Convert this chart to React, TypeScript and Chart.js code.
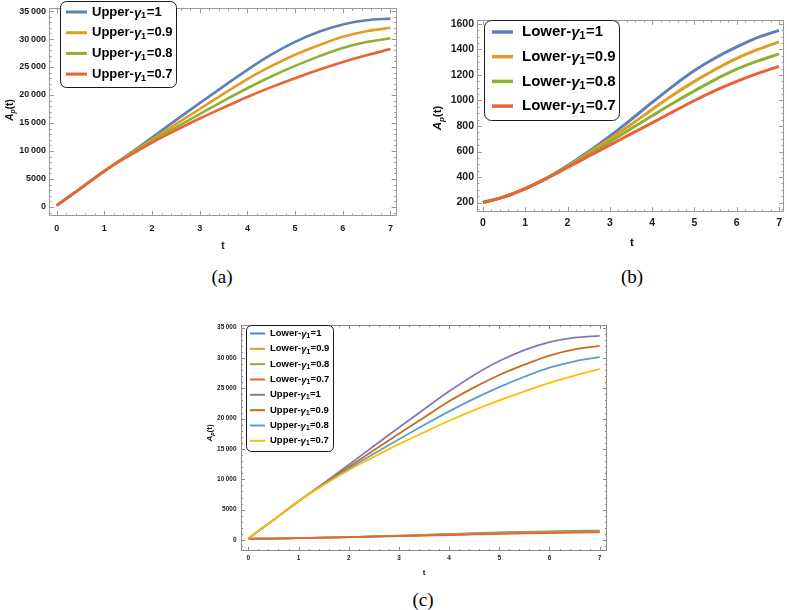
import React, { useEffect, useRef } from "react";
import { Chart, registerables } from "chart.js";

Chart.register(...registerables);

// ---------------- data ----------------
const tValues = [0, 0.5, 1, 1.5, 2, 2.5, 3, 3.5, 4, 4.5, 5, 5.5, 6, 6.5, 7];

const upperG10 = [250, 3300, 6400, 9350, 12400, 15500, 18550, 21550, 24500, 27200, 29500, 31300, 32600, 33350, 33650];
const upperG09 = [250, 3300, 6400, 9250, 12050, 14800, 17500, 20200, 22850, 25150, 27200, 28900, 30400, 31400, 32000];
const upperG08 = [250, 3300, 6400, 9150, 11750, 14200, 16600, 18950, 21200, 23300, 25200, 26900, 28400, 29450, 30150];
const upperG07 = [250, 3300, 6400, 9050, 11500, 13700, 15800, 17750, 19650, 21400, 23000, 24500, 25900, 27100, 28200];

const lowerG10 = [200, 245, 310, 390, 490, 600, 720, 850, 985, 1115, 1235, 1335, 1420, 1495, 1550];
const lowerG09 = [200, 245, 310, 390, 485, 590, 698, 812, 930, 1045, 1150, 1245, 1330, 1400, 1460];
const lowerG08 = [200, 245, 310, 390, 480, 578, 675, 778, 880, 980, 1075, 1165, 1245, 1310, 1365];
const lowerG07 = [200, 245, 310, 388, 475, 563, 650, 738, 825, 913, 1000, 1080, 1150, 1213, 1268];

const upperLabels = ["Upper-γ1=1", "Upper-γ1=0.9", "Upper-γ1=0.8", "Upper-γ1=0.7"];
const lowerLabels = ["Lower-γ1=1", "Lower-γ1=0.9", "Lower-γ1=0.8", "Lower-γ1=0.7"];

const xTicks = [0, 1, 2, 3, 4, 5, 6, 7];
const yTicksUpper = [0, 5000, 10000, 15000, 20000, 25000, 30000, 35000];
const yTicksLower = [200, 400, 600, 800, 1000, 1200, 1400, 1600];

const colorsA = ["#5E81B5", "#E19C24", "#8FB032", "#EB6235"];
const colorsC2 = ["#8778B3", "#C56E1A", "#5D9EC7", "#FFBF00"];

const FONT = '"Liberation Sans", Arial, sans-serif';

// ---------------- plugins ----------------
function minorValues(min: number, max: number, step: number, majors: number[]) {
  const out: number[] = [];
  for (let k = Math.ceil(min / step); k <= Math.floor(max / step); k++) {
    const v = +(k * step).toFixed(6);
    if (!majors.some((m) => Math.abs(m - v) < 1e-6)) out.push(v);
  }
  return out;
}

const framePlugin = {
  id: "mframe",
  beforeDatasetsDraw(chart: any, _a: any, o: any) {
    const { ctx, chartArea: a, scales } = chart;
    const xs = scales.x;
    const ys = scales.y;
    ctx.save();
    ctx.strokeStyle = o.color;
    ctx.lineWidth = 1;
    ctx.beginPath();
    const xMinor = minorValues(xs.min, xs.max, o.xMinor, o.xMajor);
    const yMinor = minorValues(ys.min, ys.max, o.yMinor, o.yMajor);
    const tx = (v: number, len: number) => {
      const px = Math.round(xs.getPixelForValue(v)) + 0.5;
      if (px < a.left || px > a.right) return;
      ctx.moveTo(px, a.bottom);
      ctx.lineTo(px, a.bottom - len);
      ctx.moveTo(px, a.top);
      ctx.lineTo(px, a.top + len);
    };
    const ty = (v: number, len: number) => {
      const py = Math.round(ys.getPixelForValue(v)) + 0.5;
      if (py < a.top || py > a.bottom) return;
      ctx.moveTo(a.left, py);
      ctx.lineTo(a.left + len, py);
      ctx.moveTo(a.right, py);
      ctx.lineTo(a.right - len, py);
    };
    o.xMajor.forEach((v: number) => tx(v, o.major));
    xMinor.forEach((v) => tx(v, o.minor));
    o.yMajor.forEach((v: number) => ty(v, o.major));
    yMinor.forEach((v) => ty(v, o.minor));
    ctx.stroke();
    ctx.strokeRect(
      Math.round(a.left) + 0.5,
      Math.round(a.top) + 0.5,
      Math.round(a.right - a.left) - 1,
      Math.round(a.bottom - a.top) - 1
    );
    ctx.restore();
  },
};

function drawGammaLabel(ctx: any, text: string, x: number, y: number, s: number) {
  const m = text.match(/^(.*)γ1(.*)$/);
  const pre = m ? m[1] : text;
  const post = m ? m[2] : "";
  ctx.fillStyle = "#000";
  ctx.textBaseline = "middle";
  ctx.textAlign = "left";
  ctx.font = `bold ${s}px ${FONT}`;
  ctx.fillText(pre, x, y);
  x += ctx.measureText(pre).width;
  if (!m) return;
  ctx.font = `italic bold ${s}px ${FONT}`;
  ctx.fillText("γ", x, y + s * 0.08);
  x += ctx.measureText("γ").width;
  ctx.font = `bold ${s * 0.7}px ${FONT}`;
  ctx.fillText("1", x, y + s * 0.3);
  x += ctx.measureText("1").width + s * 0.05;
  ctx.font = `bold ${s}px ${FONT}`;
  ctx.fillText(post, x, y);
}

const legendPlugin = {
  id: "mlegend",
  afterDatasetsDraw(chart: any, _a: any, o: any) {
    const ctx = chart.ctx;
    const [bx, by, bw, bh] = o.box;
    ctx.save();
    ctx.beginPath();
    ctx.roundRect(bx + 0.5, by + 0.5, bw, bh, o.radius);
    ctx.fillStyle = "rgba(255,255,255,0.95)";
    ctx.fill();
    ctx.strokeStyle = "#1a1a1a";
    ctx.lineWidth = 1;
    ctx.stroke();
    chart.data.datasets.forEach((ds: any, i: number) => {
      const y = o.firstRow + i * o.rowGap;
      ctx.beginPath();
      ctx.strokeStyle = ds.borderColor;
      ctx.lineWidth = o.lineWidth;
      ctx.moveTo(o.sample[0], y);
      ctx.lineTo(o.sample[1], y);
      ctx.stroke();
      drawGammaLabel(ctx, ds.label, o.textX, y, o.size);
    });
    ctx.restore();
  },
};

const titlePlugin = {
  id: "mtitles",
  afterDraw(chart: any, _a: any, o: any) {
    const ctx = chart.ctx;
    ctx.save();
    ctx.fillStyle = "#111";
    ctx.textBaseline = "middle";
    ctx.textAlign = "center";
    ctx.font = `bold ${o.x.size}px ${FONT}`;
    ctx.fillText("t", o.x.x, o.x.y);
    const s = o.y.size;
    ctx.translate(o.y.x, o.y.y);
    ctx.rotate(-Math.PI / 2);
    ctx.textAlign = "left";
    ctx.font = `italic bold ${s}px ${FONT}`;
    const wA = ctx.measureText("A").width;
    ctx.font = `italic bold ${s * 0.7}px ${FONT}`;
    const wp = ctx.measureText("p").width;
    ctx.font = `bold ${s}px ${FONT}`;
    const wt = ctx.measureText("(t)").width;
    let x0 = -(wA + wp + wt) / 2;
    ctx.font = `italic bold ${s}px ${FONT}`;
    ctx.fillText("A", x0, 0);
    x0 += wA;
    ctx.font = `italic bold ${s * 0.7}px ${FONT}`;
    ctx.fillText("p", x0, s * 0.3);
    x0 += wp;
    ctx.font = `bold ${s}px ${FONT}`;
    ctx.fillText("(t)", x0, 0);
    ctx.restore();
  },
};

// ---------------- config ----------------
function fmt(v: number) {
  return v >= 10000 ? String(v).replace(/(\d{3})$/, "\u2009$1") : String(v);
}

function makeConfig(p: any) {
  const n = p.series.length;
  return {
    type: "line",
    data: {
      datasets: p.series.map((s: any, i: number) => ({
        label: s.label,
        data: tValues.map((t, k) => ({ x: t, y: s.values[k] })),
        borderColor: s.color,
        backgroundColor: s.color,
        borderWidth: p.lineWidth,
        pointRadius: 0,
        cubicInterpolationMode: "monotone",
        fill: false,
        order: n - i,
      })),
    },
    options: {
      responsive: false,
      animation: false,
      events: [],
      layout: { padding: p.padding },
      plugins: {
        legend: { display: false },
        tooltip: { enabled: false },
        mframe: p.frame,
        mlegend: p.legend,
        mtitles: p.titles,
      },
      scales: {
        x: {
          type: "linear",
          min: p.xRange[0],
          max: p.xRange[1],
          grid: { display: false, drawTicks: false },
          border: { display: false },
          ticks: {
            autoSkip: false,
            maxRotation: 0,
            padding: p.xPad,
            color: "#1a1a1a",
            font: { family: FONT, size: p.tickSize, weight: "bold" },
            callback: (v: number) => String(v),
          },
          afterBuildTicks: (s: any) => {
            s.ticks = xTicks.map((v) => ({ value: v }));
          },
          afterFit: (s: any) => {
            s.height = p.xAxisHeight;
          },
        },
        y: {
          type: "linear",
          min: p.yRange[0],
          max: p.yRange[1],
          grid: { display: false, drawTicks: false },
          border: { display: false },
          ticks: {
            autoSkip: false,
            padding: p.yPad,
            color: "#1a1a1a",
            font: { family: FONT, size: p.tickSize, weight: "bold" },
            callback: (v: number) => fmt(v),
          },
          afterBuildTicks: (s: any) => {
            s.ticks = p.yTicks.map((v: number) => ({ value: v }));
          },
          afterFit: (s: any) => {
            s.width = p.yAxisWidth;
          },
        },
      },
    },
    plugins: [framePlugin, legendPlugin, titlePlugin],
  };
}

const configA = {
  series: upperLabels.map((l, i) => ({ label: l, values: [upperG10, upperG09, upperG08, upperG07][i], color: colorsA[i] })),
  lineWidth: 2.6,
  padding: { top: 3, right: 2, left: 0, bottom: 0 },
  xRange: [-0.16, 7.13],
  yRange: [-1620, 35470],
  yTicks: yTicksUpper,
  tickSize: 9,
  xPad: 7,
  yPad: 3,
  xAxisHeight: 44,
  yAxisWidth: 49,
  frame: { color: "#9a9a9a", xMajor: xTicks, xMinor: 0.2, yMajor: yTicksUpper, yMinor: 1000, major: 5, minor: 2.5 },
  legend: { box: [60, 1, 116, 86], radius: 6, firstRow: 12, rowGap: 20.7, sample: [66, 87], textX: 92, size: 13, lineWidth: 3 },
  titles: { x: { x: 223, y: 246, size: 10 }, y: { x: 10, y: 110, size: 10 } },
};

const configB = {
  series: lowerLabels.map((l, i) => ({ label: l, values: [lowerG10, lowerG09, lowerG08, lowerG07][i], color: colorsA[i] })),
  lineWidth: 3,
  padding: { top: 20, right: 1, left: 0, bottom: 0 },
  xRange: [-0.14, 7.12],
  yRange: [126, 1631],
  yTicks: yTicksLower,
  tickSize: 10.5,
  xPad: 5,
  yPad: 3,
  xAxisHeight: 48,
  yAxisWidth: 77,
  frame: { color: "#9a9a9a", xMajor: xTicks, xMinor: 0.2, yMajor: yTicksLower, yMinor: 50, major: 5, minor: 2.5 },
  legend: { box: [84, 20, 135, 100], radius: 7, firstRow: 32, rowGap: 24.7, sample: [92, 113], textX: 122, size: 15, lineWidth: 3.5 },
  titles: { x: { x: 232, y: 243, size: 11.5 }, y: { x: 38, y: 118, size: 11.5 } },
};

const configC = {
  series: [
    ...lowerLabels.map((l, i) => ({ label: l, values: [lowerG10, lowerG09, lowerG08, lowerG07][i], color: colorsA[i] })),
    ...upperLabels.map((l, i) => ({ label: l, values: [upperG10, upperG09, upperG08, upperG07][i], color: colorsC2[i] })),
  ],
  lineWidth: 1.8,
  padding: { top: 25, right: 3, left: 0, bottom: 0 },
  xRange: [-0.147, 7.146],
  yRange: [-1810, 35430],
  yTicks: yTicksUpper,
  tickSize: 6.5,
  xPad: 3.5,
  yPad: 4.5,
  xAxisHeight: 29,
  yAxisWidth: 41,
  frame: { color: "#8a8a8a", xMajor: xTicks, xMinor: 0.2, yMajor: yTicksUpper, yMinor: 1000, major: 4, minor: 2 },
  legend: { box: [46, 25, 87, 126], radius: 5, firstRow: 33.5, rowGap: 15.33, sample: [50, 65], textX: 70, size: 9.5, lineWidth: 2 },
  titles: { x: { x: 224, y: 272.5, size: 8 }, y: { x: 10, y: 133, size: 8 } },
};

// ---------------- components ----------------
function ChartCanvas({ cfg, left, top, width, height }: any) {
  const ref = useRef<HTMLCanvasElement | null>(null);
  useEffect(() => {
    if (!ref.current) return;
    const chart = new Chart(ref.current, makeConfig(cfg) as any);
    return () => chart.destroy();
  }, [cfg]);
  return (
    <canvas
      ref={ref}
      width={width}
      height={height}
      style={{ position: "absolute", left, top, width, height }}
    />
  );
}

function Caption({ text, x, y }: any) {
  return (
    <div
      style={{
        position: "absolute",
        left: x - 30,
        top: y - 12,
        width: 60,
        height: 24,
        lineHeight: "24px",
        textAlign: "center",
        fontFamily: '"Liberation Serif", "DejaVu Serif", serif',
        fontSize: 19,
        color: "#000",
      }}
    >
      {text}
    </div>
  );
}

export default function App() {
  return (
    <div style={{ position: "absolute", left: 0, top: 0, width: 787, height: 610, background: "#fff", overflow: "hidden" }}>
      <ChartCanvas cfg={configA} left={0} top={0} width={400} height={260} />
      <ChartCanvas cfg={configB} left={400} top={0} width={387} height={260} />
      <ChartCanvas cfg={configC} left={200} top={300} width={410} height={280} />
      <Caption text="(a)" x={222} y={277} />
      <Caption text="(b)" x={632} y={277} />
      <Caption text="(c)" x={423} y={600} />
    </div>
  );
}
